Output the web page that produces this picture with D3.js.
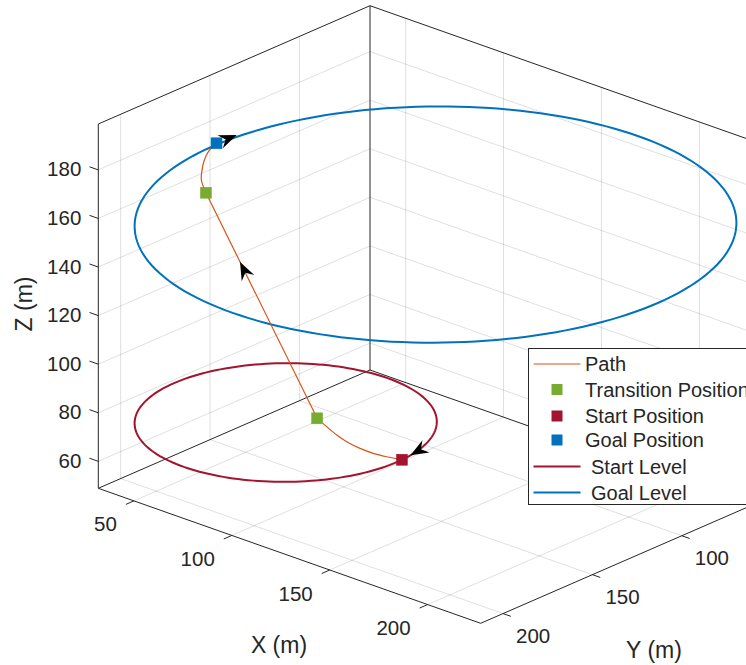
<!DOCTYPE html>
<html>
<head>
<meta charset="utf-8">
<script src="https://cdn.jsdelivr.net/npm/d3@7"></script>
<style>
  body { margin: 0; background: #fff; }
  text { font-family: "Liberation Sans", Arial, sans-serif; fill: #262626; }
</style>
</head>
<body>
<script>
// axis limits and ticks
var xLim = [31.8, 227.1],
    yLim = [60.5, 212.5],
    zLim = [48.9, 198.9];
var xTicks = [50, 100, 150, 200],
    yTicks = [100, 150, 200],
    zTicks = [60, 80, 100, 120, 140, 160, 180];

// path pieces [x, y, z]
var pathArc1 = [[116.4, 135.3, 60], [112.5, 139.6, 61.5], [108.9, 143.1, 63], [104.3, 145.5, 64.5],
                [98.6, 146.7, 66], [93.8, 147.0, 67.5], [87.9, 146.2, 69], [81.4, 144.4, 70]];
var pathClimb = [[81.4, 144.4, 70], [61.2, 184.5, 170]];
var pathArc2 = [[61.2, 184.5, 170], [56.4, 181.8, 173], [54.5, 179.5, 175], [51.1, 174.5, 177],
                [48.6, 169.3, 178.5], [47.9, 164.0, 180]];

var transitionPos = [[81.4, 144.4, 70], [61.2, 184.5, 170]];
var startPos = [116.4, 135.3, 60];
var goalPos = [47.9, 164.0, 180];

// levels: [cx, cy, z, radius]
var startLevel = [59.5, 138.0, 60, 57];
var goalLevel = [162.3, 166.8, 180, 113.5];

// heading arrows: tip [x, y, z] and direction
var arrowTips = [[115.95, 130.07, 60], [67.4, 172.2, 139.3], [48.2, 153.0, 180]];
var arrowDirs = [[0.139, 0.990, 0], [-0.184, 0.366, 0.912], [0.024, -1, 0]];

var legendNames = ["Path", "Transition Position", "Start Position", "Goal Position", "Start Level", "Goal Level"];

var width = 746, height = 665;
var C = { path: "#D95319", green: "#77AC30", red: "#A2142F", blue: "#0072BD", ax: "#262626" };

var svg = d3.select("body").append("svg")
    .attr("width", width).attr("height", height);

// projection of the plot box
var origin = [98.3, 488.3],
    ex = [382.4, 135],
    ey = [271.7, -118.3],
    ez = [0, -364.3];

var sx = d3.scaleLinear().domain(xLim).range([0, 1]);
var sy = d3.scaleLinear().domain([yLim[1], yLim[0]]).range([0, 1]);
var sz = d3.scaleLinear().domain(zLim).range([0, 1]);

function proj(p) {
    var a = sx(p[0]), b = sy(p[1]), c = sz(p[2]);
    return [origin[0] + a * ex[0] + b * ey[0] + c * ez[0],
            origin[1] + a * ex[1] + b * ey[1] + c * ez[1]];
}

function seg(g, p, q, stroke, sw, op) {
    var A = proj(p), B = proj(q);
    return g.append("line")
        .attr("x1", A[0]).attr("y1", A[1]).attr("x2", B[0]).attr("y2", B[1])
        .attr("stroke", stroke).attr("stroke-width", sw)
        .attr("stroke-opacity", op == null ? 1 : op);
}

var x0 = xLim[0], x1 = xLim[1], y0 = yLim[0], y1 = yLim[1], z0 = zLim[0], z1 = zLim[1];

// grid
var grid = svg.append("g");
xTicks.forEach(function (t) {
    seg(grid, [t, y1, z0], [t, y0, z0], C.ax, 1, 0.15);
    seg(grid, [t, y0, z0], [t, y0, z1], C.ax, 1, 0.15);
});
yTicks.forEach(function (t) {
    seg(grid, [x0, t, z0], [x1, t, z0], C.ax, 1, 0.15);
    seg(grid, [x0, t, z0], [x0, t, z1], C.ax, 1, 0.15);
});
zTicks.forEach(function (t) {
    seg(grid, [x0, y1, t], [x0, y0, t], C.ax, 1, 0.15);
    seg(grid, [x0, y0, t], [x1, y0, t], C.ax, 1, 0.15);
});

// box
var box = svg.append("g");
seg(box, [x0, y1, z0], [x1, y1, z0], C.ax, 1);
seg(box, [x1, y1, z0], [x1, y0, z0], C.ax, 1);
seg(box, [x0, y1, z0], [x0, y0, z0], C.ax, 1);
seg(box, [x0, y0, z0], [x1, y0, z0], C.ax, 1);
seg(box, [x0, y1, z0], [x0, y1, z1], C.ax, 1);
seg(box, [x0, y0, z0], [x0, y0, z1], C.ax, 1);
seg(box, [x0, y1, z1], [x0, y0, z1], C.ax, 1);
seg(box, [x0, y0, z1], [x1, y0, z1], C.ax, 1);

// ticks and labels
var ticks = svg.append("g");
xTicks.forEach(function (t) {
    var p = proj([t, y1, z0]), q = proj([t, y1 + 4.5, z0]);
    ticks.append("line").attr("x1", p[0]).attr("y1", p[1]).attr("x2", q[0]).attr("y2", q[1])
        .attr("stroke", C.ax).attr("stroke-width", 1);
    ticks.append("text").attr("x", p[0] - 17).attr("y", p[1] + 23)
        .attr("text-anchor", "end").attr("dominant-baseline", "central")
        .attr("font-size", 20.5).text(t);
});
yTicks.forEach(function (t) {
    var p = proj([x1, t, z0]), q = proj([x1 + 4, t, z0]);
    ticks.append("line").attr("x1", p[0]).attr("y1", p[1]).attr("x2", q[0]).attr("y2", q[1])
        .attr("stroke", C.ax).attr("stroke-width", 1);
    ticks.append("text").attr("x", p[0] + 13).attr("y", p[1] + 22)
        .attr("text-anchor", "start").attr("dominant-baseline", "central")
        .attr("font-size", 20.5).text(t);
});
zTicks.forEach(function (t) {
    var p = proj([x0, y1, t]), q = proj([x0 - 4.5, y1, t]);
    ticks.append("line").attr("x1", p[0]).attr("y1", p[1]).attr("x2", q[0]).attr("y2", q[1])
        .attr("stroke", C.ax).attr("stroke-width", 1);
    ticks.append("text").attr("x", p[0] - 17).attr("y", p[1] - 1)
        .attr("text-anchor", "end").attr("dominant-baseline", "central")
        .attr("font-size", 20.5).text(t);
});

svg.append("text").attr("x", 279).attr("y", 645).attr("text-anchor", "middle")
    .attr("dominant-baseline", "central").attr("font-size", 23).text("X (m)");
svg.append("text").attr("x", 654).attr("y", 650).attr("text-anchor", "middle")
    .attr("dominant-baseline", "central").attr("font-size", 23).text("Y (m)");
svg.append("text").attr("transform", "translate(24,304) rotate(-90)").attr("text-anchor", "middle")
    .attr("dominant-baseline", "central").attr("font-size", 23).text("Z (m)");

// level circles
function levelPoints(L) {
    return d3.range(0, 361, 2).map(function (deg) {
        var t = deg * Math.PI / 180;
        return proj([L[0] + L[3] * Math.cos(t), L[1] + L[3] * Math.sin(t), L[2]]);
    });
}
var lineGen = d3.line();
svg.append("path").attr("d", lineGen(levelPoints(startLevel)))
    .attr("fill", "none").attr("stroke", C.red).attr("stroke-width", 2);
svg.append("path").attr("d", lineGen(levelPoints(goalLevel)))
    .attr("fill", "none").attr("stroke", C.blue).attr("stroke-width", 2);

// path
var curveGen = d3.line().curve(d3.curveCatmullRom.alpha(0.5));
[pathArc1, pathArc2].forEach(function (pts) {
    svg.append("path").attr("d", curveGen(pts.map(proj)))
        .attr("fill", "none").attr("stroke", C.path).attr("stroke-width", 1.2);
});
svg.append("path").attr("d", lineGen(pathClimb.map(proj)))
    .attr("fill", "none").attr("stroke", C.path).attr("stroke-width", 1.2);

// markers
function square(p, color) {
    var s = proj(p);
    svg.append("rect").attr("x", s[0] - 5.5).attr("y", s[1] - 5.5)
        .attr("width", 11).attr("height", 11)
        .attr("fill", color).attr("stroke", color).attr("stroke-width", 0.5);
}
transitionPos.forEach(function (p) { square(p, C.green); });
square(startPos, C.red);
square(goalPos, C.blue);

// arrows
arrowTips.forEach(function (tip, i) {
    var d = arrowDirs[i];
    var a = proj(tip), b = proj([tip[0] - d[0], tip[1] - d[1], tip[2] - d[2]]);
    var ang = Math.atan2(a[1] - b[1], a[0] - b[0]) * 180 / Math.PI;
    svg.append("path")
        .attr("d", "M0,0 L-18,-7 L-12,0 L-18,7 Z")
        .attr("transform", "translate(" + a[0] + "," + a[1] + ") rotate(" + ang + ")")
        .attr("fill", "#000");
});

// legend
var lg = svg.append("g").attr("transform", "translate(528.5,348.5)");
lg.append("rect").attr("width", 240).attr("height", 156)
    .attr("fill", "#fff").attr("stroke", C.ax).attr("stroke-width", 1);
var rowY = [15.5, 41, 67.5, 91.5, 118, 144];
legendNames.forEach(function (name, i) {
    var y = rowY[i];
    if (i === 0 || i >= 4) {
        var col = i === 0 ? C.path : (i === 4 ? C.red : C.blue);
        lg.append("line").attr("x1", 5).attr("x2", 52).attr("y1", y).attr("y2", y)
            .attr("stroke", col).attr("stroke-width", i === 0 ? 1.2 : 2);
    } else {
        var col2 = [null, C.green, C.red, C.blue][i];
        lg.append("rect").attr("x", 28.5 - 5.5).attr("y", y - 5.5).attr("width", 11).attr("height", 11)
            .attr("fill", col2);
    }
    lg.append("text").attr("x", i >= 4 ? 62.5 : 56.5).attr("y", y)
        .attr("dominant-baseline", "central").attr("font-size", 20).text(name);
});
</script>
</body>
</html>
